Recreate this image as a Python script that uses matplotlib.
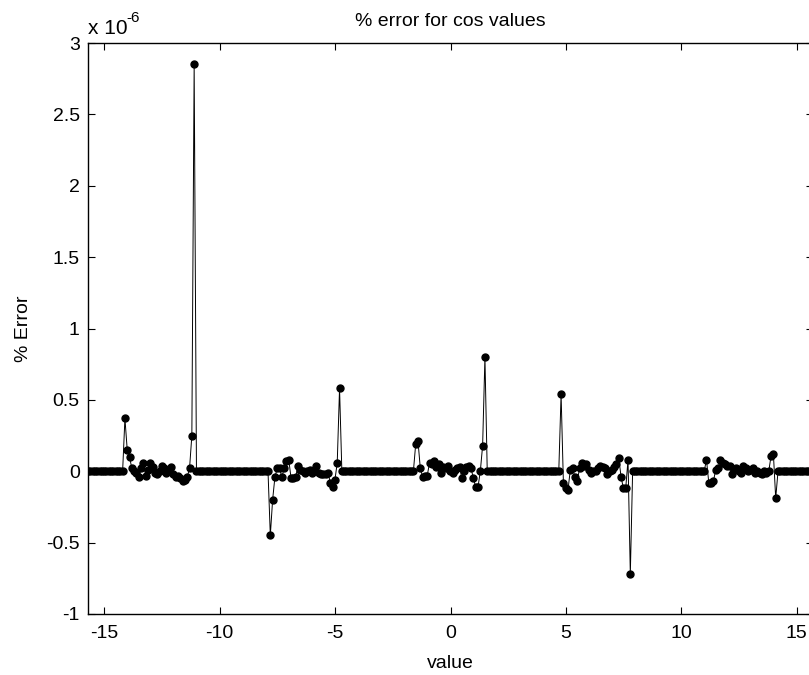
import numpy as np
import matplotlib
matplotlib.use("Agg")
import matplotlib.pyplot as plt

# ── Data (values in units of 1e-6) ───────────────────────────────────────────
# sample grid: -5*pi : 0.1 : 5*pi
X_START = -5 * np.pi
X_STEP = 0.1
N_POINTS = 315

# index of first sample of each non-zero cluster
cluster_starts = [16, 79, 142, 205, 268]

cluster_1 = [0.37, 0.15, 0.10, 0.02, 0.00, -0.01, -0.04, 0.02, 0.06, -0.03, 0.01,
             0.06, 0.03, -0.01, -0.02, 0.00, 0.04, 0.02, -0.01, 0.00, 0.03, -0.02,
             -0.04, -0.03, -0.05, -0.07, -0.06, -0.04, 0.02, 0.25, 2.85]
cluster_2 = [-0.45, -0.20, -0.04, 0.02, 0.02, -0.04, 0.02, 0.07, 0.08, -0.05, -0.05,
             -0.04, 0.04, 0.01, 0.00, -0.01, 0.00, 0.01, -0.01, 0.00, 0.04, -0.01,
             -0.02, -0.02, -0.02, -0.01, -0.08, -0.11, -0.06, 0.06, 0.58]
cluster_3 = [0.19, 0.21, 0.02, -0.04, -0.03, -0.03, 0.06, 0.05, 0.07, 0.03, 0.05,
             -0.01, 0.03, 0.02, 0.04, 0.00, -0.01, 0.01, 0.02, 0.03, -0.05, 0.00,
             0.03, 0.04, 0.02, -0.05, -0.11, -0.11, 0.00, 0.18, 0.80]
cluster_4 = [0.54, -0.08, -0.12, -0.13, 0.01, 0.02, -0.04, -0.07, 0.02, 0.06, 0.04,
             0.05, 0.01, -0.01, 0.00, 0.00, 0.02, 0.04, 0.03, 0.02, -0.02, 0.00,
             0.01, 0.03, 0.05, 0.09, -0.04, -0.12, -0.12, 0.08, -0.72]
cluster_5 = [0.08, -0.08, -0.08, -0.07, 0.01, 0.02, 0.08, 0.06, 0.05, 0.04, 0.04,
             -0.02, 0.01, 0.02, 0.00, -0.01, 0.04, 0.02, 0.00, 0.01, 0.02, -0.01,
             0.00, -0.01, -0.02, 0.00, -0.01, 0.00, 0.11, 0.12, -0.19]

x_ticks = [-15, -10, -5, 0, 5, 10, 15]
y_ticks = [-1, -0.5, 0, 0.5, 1, 1.5, 2, 2.5, 3]
y_tick_labels = ["-1", "-0.5", "0", "0.5", "1", "1.5", "2", "2.5", "3"]

# ── Build series ─────────────────────────────────────────────────────────────
x = X_START + X_STEP * np.arange(N_POINTS)
y = np.zeros(N_POINTS)
for start, vals in zip(cluster_starts, [cluster_1, cluster_2, cluster_3, cluster_4, cluster_5]):
    y[start:start + len(vals)] = vals

# ── Plot ─────────────────────────────────────────────────────────────────────
plt.rcParams["font.family"] = ["Liberation Sans", "DejaVu Sans"]
plt.rcParams["axes.unicode_minus"] = False
FS = 14

fig = plt.figure(figsize=(8.09, 6.75), dpi=100)
ax = fig.add_axes([88 / 809, 1 - 614 / 675, (813 - 88) / 809, (614 - 43) / 675])

ax.plot(x, y, color="black", lw=0.7, marker="o", ms=5.0, mfc="black", mec="black")

ax.set_xlim(-5 * np.pi, 5 * np.pi)
ax.set_ylim(-1, 3)
ax.set_xticks(x_ticks)
ax.set_xticklabels([str(t) for t in x_ticks])
ax.set_yticks(y_ticks)
ax.set_yticklabels(y_tick_labels)
ax.tick_params(direction="in", top=True, right=True, length=5, width=0.8,
               labelsize=FS)
ax.tick_params(axis="x", pad=8)
ax.tick_params(axis="y", pad=6)
for s in ax.spines.values():
    s.set_linewidth(1.0)

ax.set_title("% error for cos values", fontsize=FS, pad=12)
ax.set_xlabel("value", fontsize=FS, labelpad=9)
ax.set_ylabel("% Error", fontsize=FS, labelpad=10)

# MATLAB-style exponent label above the y axis
fig.text(88 / 809, 1 - 34 / 675, "x 10", fontsize=FS + 1, ha="left", va="baseline")
fig.text(126 / 809, 1 - 22 / 675, "-6", fontsize=FS - 3, ha="left", va="baseline")

fig.savefig("out.png", dpi=100)
